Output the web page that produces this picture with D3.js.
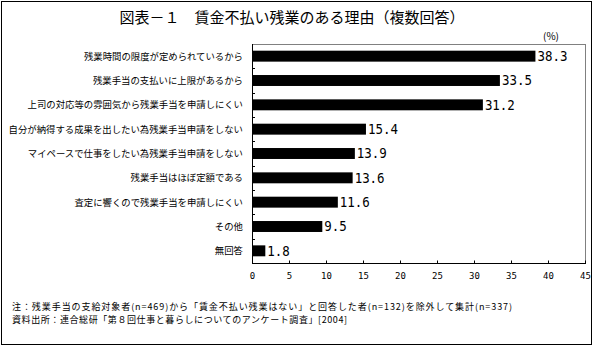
<!DOCTYPE html>
<html><head><meta charset="utf-8">
<script src="https://cdn.jsdelivr.net/npm/d3@7"></script>
<style>
html,body{margin:0;padding:0;background:#fff;}
svg{display:block;}
text{font-family:"Noto Sans CJK JP","Noto Sans",sans-serif;fill:#000;}
</style></head>
<body>
<svg id="chart" width="595" height="347"></svg>
<script>
const title = "図表－１　賃金不払い残業のある理由（複数回答）";
const categories = [
  "残業時間の限度が定められているから",
  "残業手当の支払いに上限があるから",
  "上司の対応等の雰囲気から残業手当を申請しにくい",
  "自分が納得する成果を出したい為残業手当申請をしない",
  "マイペースで仕事をしたい為残業手当申請をしない",
  "残業手当はほぼ定額である",
  "査定に響くので残業手当を申請しにくい",
  "その他",
  "無回答"
];
const values = [38.3, 33.5, 31.2, 15.4, 13.9, 13.6, 11.6, 9.5, 1.8];
const xTicks = [0, 5, 10, 15, 20, 25, 30, 35, 40, 45];
const unitLabel = "(%)";
const notes = [
  "注：残業手当の支給対象者(n=469)から「賃金不払い残業はない」と回答した者(n=132)を除外して集計(n=337)",
  "資料出所：連合総研「第８回仕事と暮らしについてのアンケート調査」[2004]"
];
const noteWidths = [500, 335];

const svg = d3.select("#chart");
const L = 252, R = 585, T = 44, B = 263;

// outer frame
svg.append("rect").attr("x", 1.5).attr("y", 1.5).attr("width", 590).attr("height", 343)
  .attr("fill", "none").attr("stroke", "#000").attr("stroke-width", 1);

svg.append("text").attr("x", 292).attr("y", 23).attr("text-anchor", "middle")
  .attr("font-size", 15).text(title);

svg.append("text").attr("x", 551).attr("y", 40).attr("text-anchor", "middle")
  .attr("font-size", 10).text(unitLabel);

const x = d3.scaleLinear().domain([0, 45]).range([L, R]);
const y = d3.scaleBand().domain(categories).range([T, B]).paddingInner(0.55).paddingOuter(0.275);

// plot frame top/right gray
svg.append("line").attr("x1", L).attr("x2", R + 0.5).attr("y1", T + 0.5).attr("y2", T + 0.5).attr("stroke", "#808080");
svg.append("line").attr("x1", R + 0.5).attr("x2", R + 0.5).attr("y1", T).attr("y2", B).attr("stroke", "#808080");

// bars
svg.append("g").selectAll("rect").data(values).join("rect")
  .attr("x", L).attr("y", (d, i) => y(categories[i]))
  .attr("width", d => x(d) - L).attr("height", y.bandwidth())
  .attr("fill", "#000");

// value labels
svg.append("g").selectAll("text").data(values).join("text")
  .attr("x", d => x(d) + 2).attr("y", (d, i) => y(categories[i]) + y.bandwidth() / 2)
  .attr("dy", "0.36em").attr("font-size", 13.5)
  .style("font-family", "'DejaVu Sans Mono',monospace")
  .attr("textLength", d => String(d).length * 7.5).attr("lengthAdjust", "spacingAndGlyphs")
  .text(d => d.toFixed(1));

// category labels
svg.append("g").selectAll("text").data(categories).join("text")
  .attr("x", 243).attr("y", d => y(d) + y.bandwidth() / 2)
  .attr("dy", "0.36em").attr("text-anchor", "end").attr("font-size", 9.4)
  .text(d => d);

// y axis line + inward ticks at band boundaries
svg.append("line").attr("x1", L + 0.5).attr("x2", L + 0.5).attr("y1", T).attr("y2", B).attr("stroke", "#000");
const step = y.step();
svg.append("g").selectAll("line").data(d3.range(1, categories.length)).join("line")
  .attr("x1", L).attr("x2", L + 3)
  .attr("y1", k => Math.round(T + step * k) + 0.5).attr("y2", k => Math.round(T + step * k) + 0.5)
  .attr("stroke", "#000");

// x axis
const xAxis = d3.axisBottom(x).tickValues(xTicks).tickSize(-3).tickPadding(9).tickFormat(d3.format("d"));
const gx = svg.append("g").attr("transform", `translate(0,${B + 0.5})`).call(xAxis);
gx.select(".domain").attr("d", `M${L},0H${R + 1}`).attr("stroke", "#000");
gx.selectAll(".tick line").attr("stroke", "#000");
gx.selectAll(".tick text").attr("font-size", 9).style("font-family", "'DejaVu Sans Mono',monospace");

// notes
svg.append("g").selectAll("text").data(notes).join("text")
  .attr("x", 12).attr("y", (d, i) => 310 + i * 13)
  .attr("font-size", 9)
  .attr("textLength", (d, i) => noteWidths[i]).attr("lengthAdjust", "spacing")
  .text(d => d);
</script>
</body></html>
